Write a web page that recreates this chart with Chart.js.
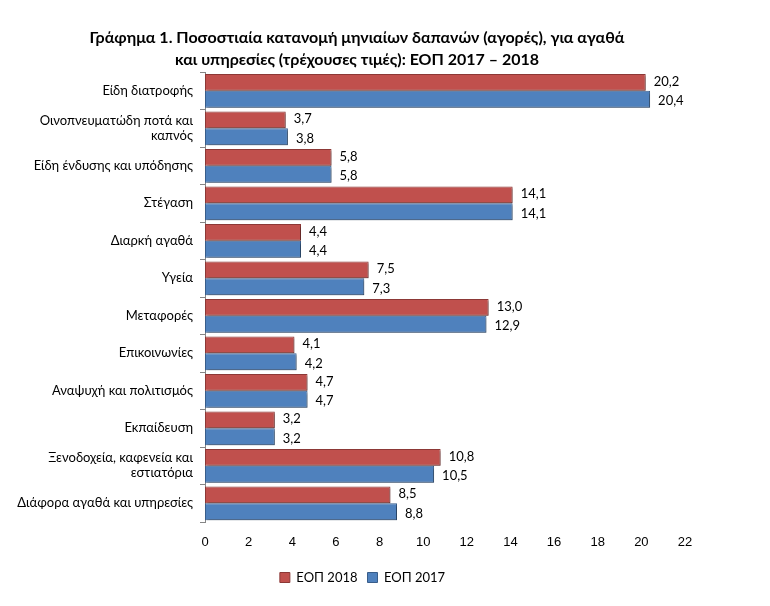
<!DOCTYPE html>
<html>
<head>
<meta charset="utf-8">
<script src="https://cdn.jsdelivr.net/npm/chart.js@4"></script>
<style>
  html, body { margin: 0; padding: 0; background: #fff; }
  #wrap { width: 770px; height: 606px; }
</style>
</head>
<body>
<div id="wrap"><canvas id="expChart" width="770" height="606"></canvas></div>
<script>
// categories (top to bottom)
const categories = [
    "Είδη διατροφής",
    ["Οινοπνευματώδη ποτά και", "καπνός"],
    "Είδη ένδυσης και υπόδησης",
    "Στέγαση",
    "Διαρκή αγαθά",
    "Υγεία",
    "Μεταφορές",
    "Επικοινωνίες",
    "Αναψυχή και πολιτισμός",
    "Εκπαίδευση",
    ["Ξενοδοχεία, καφενεία και", "εστιατόρια"],
    "Διάφορα αγαθά και υπηρεσίες"
];
const eop2018 = [20.2, 3.7, 5.8, 14.1, 4.4, 7.5, 13.0, 4.1, 4.7, 3.2, 10.8, 8.5];
const eop2017 = [20.4, 3.8, 5.8, 14.1, 4.4, 7.3, 12.9, 4.2, 4.7, 3.2, 10.5, 8.8];
const xTicks = [0, 2, 4, 6, 8, 10, 12, 14, 16, 18, 20, 22];
const titleLines = [
    "Γράφημα 1. Ποσοστιαία κατανομή μηνιαίων δαπανών (αγορές), για αγαθά",
    "και υπηρεσίες (τρέχουσες τιμές): ΕΟΠ 2017 – 2018"
];

// title is centred on the whole figure, not on the plot
const chartTitle = {
    id: "chartTitle",
    afterDraw(chart) {
        const ctx = chart.ctx;
        ctx.save();
        ctx.font = "bold 16px Lato";
        ctx.fillStyle = "#000";
        ctx.textAlign = "center";
        ctx.textBaseline = "middle";
        ctx.fillText(titleLines[0], 357, 38);
        ctx.fillText(titleLines[1], 357, 60);
        ctx.restore();
    }
};

// left padding keeps the legend where it was; let long category labels use it
const wideLabels = {
    id: "wideLabels",
    afterLayout(chart) {
        chart.scales.y.left = 0;
    }
};

// bar shadow, like the office chart
const barShadow = {
    id: "barShadow",
    beforeDatasetsDraw(chart) {
        const ctx = chart.ctx;
        ctx.save();
        ctx.shadowColor = "rgba(0,0,0,0.28)";
        ctx.shadowOffsetX = 2;
        ctx.shadowOffsetY = 2;
        ctx.shadowBlur = 2;
    },
    afterDatasetsDraw(chart) {
        chart.ctx.restore();
    }
};

// value labels to the right of each bar (2018 a bit up, 2017 a bit down)
const valueLabels = {
    id: "valueLabels",
    afterDraw(chart) {
        const ctx = chart.ctx;
        ctx.save();
        ctx.font = "13px Lato";
        ctx.fillStyle = "#000";
        ctx.textAlign = "left";
        ctx.textBaseline = "middle";
        chart.data.datasets.forEach((ds, i) => {
            const shift = i === 0 ? -1 : 2;
            chart.getDatasetMeta(i).data.forEach((bar, j) => {
                const txt = ds.data[j].toFixed(1).replace(".", ",");
                ctx.fillText(txt, bar.x + 8, bar.y + shift);
            });
        });
        ctx.restore();
    }
};

const ctx = document.getElementById("expChart").getContext("2d");
new Chart(ctx, {
    type: "bar",
    data: {
        labels: categories,
        datasets: [{
            label: "ΕΟΠ 2018",
            data: eop2018,
            backgroundColor: "#C0504D",
            borderColor: "#8C3836",
            borderWidth: 1,
            borderSkipped: false,
        }, {
            label: "ΕΟΠ 2017",
            data: eop2017,
            backgroundColor: "#4F81BD",
            borderColor: "#385D8A",
            borderWidth: 1,
            borderSkipped: false,
        }],
    },
    plugins: [chartTitle, wideLabels, barShadow, valueLabels],
    options: {
        indexAxis: "y",
        responsive: false,
        animation: false,
        datasets: {
            bar: { categoryPercentage: 0.9, barPercentage: 1.0 }
        },
        layout: { padding: { left: 40, right: 85, top: 72, bottom: 12 } },
        plugins: {
            title: { display: false },
            legend: {
                display: true,
                position: "bottom",
                labels: {
                    color: "#000",
                    font: { family: "Lato", size: 13 },
                    boxWidth: 10,
                    boxHeight: 10,
                    padding: 10,
                },
            },
            tooltip: { enabled: false },
        },
        scales: {
            x: {
                min: 0,
                max: 22,
                afterBuildTicks(scale) {
                    scale.ticks = xTicks.map(v => ({ value: v }));
                },
                afterFit(scale) { scale.height = 39; },
                grid: { display: false },
                border: { display: false },
                ticks: {
                    color: "#000",
                    padding: 5,
                    font: { family: "Liberation Sans", size: 13 },
                },
            },
            y: {
                afterFit(scale) { scale.width = 165; },
                grid: {
                    offset: true,
                    drawOnChartArea: false,
                    drawTicks: true,
                    tickLength: 5,
                    color: "#868686",
                },
                border: { display: true, color: "#868686", width: 1 },
                ticks: {
                    color: "#000",
                    padding: 7,
                    font: { family: "Lato", size: 13, lineHeight: 1.15 },
                },
            },
        },
    },
});
</script>
</body>
</html>
